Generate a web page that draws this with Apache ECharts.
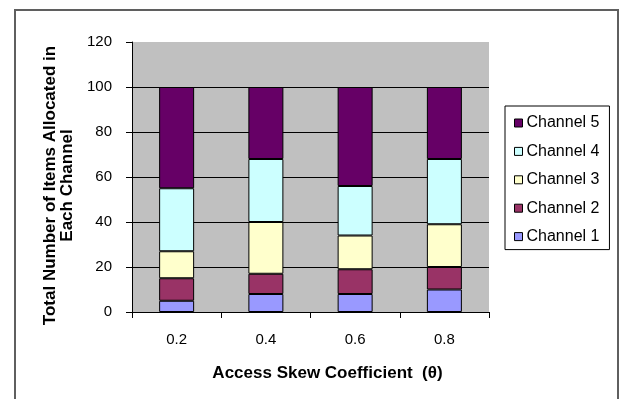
<!DOCTYPE html>
<html>
<head>
<meta charset="utf-8">
<script src="https://cdn.jsdelivr.net/npm/echarts@6/dist/echarts.min.js"></script>
<style>
html,body{margin:0;padding:0;background:#fff;}
#chart{width:620px;height:399px;}
</style>
</head>
<body>
<div id="chart"></div>
<script>
const categories = ['0.2', '0.4', '0.6', '0.8'];
const channel1 = [5, 8, 8, 10];
const channel2 = [10, 9, 11, 10];
const channel3 = [12, 23, 15, 19];
const channel4 = [28, 28, 22, 29];
const channel5 = [45, 32, 44, 32];
const seriesNames = ['Channel 1', 'Channel 2', 'Channel 3', 'Channel 4', 'Channel 5'];
const seriesColors = ['#9999FF', '#993366', '#FFFFCC', '#CCFFFF', '#660066'];
const seriesValues = [channel1, channel2, channel3, channel4, channel5];
const yTicks = [0, 20, 40, 60, 80, 100, 120];

const FONT = 'Liberation Sans, Arial, sans-serif';
const chart = echarts.init(document.getElementById('chart'), null, {renderer: 'canvas'});

chart.setOption({
  animation: false,
  backgroundColor: '#fff',
  graphic: [{
    type: 'rect',
    shape: {x: 15, y: 10, width: 603, height: 420},
    style: {fill: 'none', stroke: '#5f5f5f', lineWidth: 2},
    silent: true
  }],
  grid: {
    left: 132, top: 42, width: 357, height: 270,
    show: true, backgroundColor: '#C0C0C0', borderWidth: 0
  },
  legend: {
    orient: 'vertical',
    left: 505, top: 106,
    padding: [9, 10, 5, 9],
    borderColor: '#000', borderWidth: 1,
    backgroundColor: '#fff',
    itemWidth: 8, itemHeight: 8, itemGap: 12.4,
    icon: 'rect',
    selectedMode: false,
    data: seriesNames.slice().reverse(),
    itemStyle: {borderColor: '#000', borderWidth: 1},
    textStyle: {fontFamily: FONT, fontSize: 16, color: '#000', padding: [0, 0, 0, -1]}
  },
  xAxis: {
    type: 'category',
    data: categories,
    name: 'Access Skew Coefficient  (θ)',
    nameLocation: 'middle',
    nameGap: 53,
    nameTextStyle: {fontFamily: FONT, fontSize: 17, fontWeight: 'bold', color: '#000', padding: [0, 0, 0, 34]},
    axisLine: {lineStyle: {color: '#000', width: 1}},
    axisTick: {show: true, length: 6, lineStyle: {color: '#000'}},
    axisLabel: {fontFamily: FONT, fontSize: 15, color: '#000', margin: 20}
  },
  yAxis: {
    type: 'value',
    min: 0, max: 120, interval: 20,
    name: 'Total Number of Items Allocated in\nEach Channel',
    nameLocation: 'middle',
    nameGap: 56,
    nameTextStyle: {fontFamily: FONT, fontSize: 17, fontWeight: 'bold', color: '#000', lineHeight: 17, align: 'center', padding: [0, 17, 0, 0]},
    axisLine: {show: true, lineStyle: {color: '#000', width: 1}},
    axisTick: {show: true, length: 6, lineStyle: {color: '#000'}},
    axisLabel: {fontFamily: FONT, fontSize: 15, color: '#000', margin: 20,
      formatter: v => yTicks.includes(v) ? String(v) : ''},
    splitLine: {show: true, showMinLine: false, showMaxLine: false, lineStyle: {color: '#000', width: 1}}
  },
  series: seriesNames.map((name, i) => ({
    name: name,
    type: 'bar',
    stack: 'total',
    barWidth: 35,
    data: seriesValues[i],
    itemStyle: {color: seriesColors[i], borderColor: '#000', borderWidth: 1}
  }))
});
</script>
</body>
</html>
